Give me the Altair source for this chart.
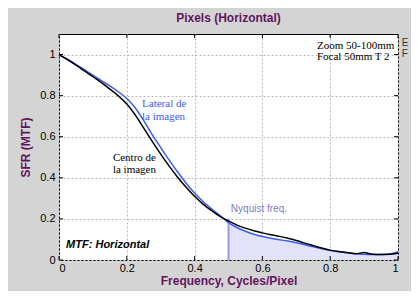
import altair as alt
import pandas as pd

# ---- data ----
freq = [0.000, 0.025, 0.050, 0.075, 0.100, 0.125, 0.150, 0.175, 0.200, 0.225,
        0.250, 0.275, 0.300, 0.325, 0.350, 0.375, 0.400, 0.425, 0.450, 0.475,
        0.500, 0.525, 0.550, 0.575, 0.600, 0.625, 0.650, 0.675, 0.700, 0.725,
        0.750, 0.775, 0.800, 0.825, 0.850, 0.875, 0.900, 0.925, 0.950, 0.975, 1.000]
lateral = [1.000, 0.977, 0.952, 0.926, 0.900, 0.873, 0.847, 0.819, 0.786, 0.740,
           0.678, 0.610, 0.547, 0.486, 0.428, 0.374, 0.326, 0.285, 0.249, 0.216,
           0.182, 0.158, 0.140, 0.125, 0.114, 0.106, 0.099, 0.092, 0.084, 0.074,
           0.064, 0.055, 0.046, 0.040, 0.035, 0.031, 0.028, 0.027, 0.027, 0.029, 0.040]
centro = [1.000, 0.975, 0.948, 0.920, 0.892, 0.863, 0.832, 0.799, 0.759, 0.706,
          0.642, 0.577, 0.515, 0.457, 0.403, 0.354, 0.310, 0.272, 0.240, 0.212,
          0.190, 0.170, 0.155, 0.142, 0.132, 0.123, 0.115, 0.106, 0.095, 0.082,
          0.070, 0.058, 0.048, 0.041, 0.036, 0.031, 0.036, 0.028, 0.027, 0.028, 0.033]

x_ticks = [0, 0.2, 0.4, 0.6, 0.8, 1]
y_ticks = [0, 0.2, 0.4, 0.6, 0.8, 1]
nyquist = 0.5

PURPLE = "#63145f"
BLUE = "#3a5cf0"

W, H = 339, 226

curves = pd.DataFrame({"freq": freq, "Lateral": lateral, "Centro": centro})
long = curves.melt("freq", var_name="serie", value_name="mtf")
area_df = curves[curves["freq"] >= nyquist][["freq", "Lateral"]].rename(columns={"Lateral": "mtf"})

xs = alt.Scale(domain=[0, 1], nice=False, zero=False)
ys = alt.Scale(domain=[0, 1.1], nice=False, zero=False)


def X(field="freq"):
    return alt.X(f"{field}:Q", scale=xs,
                 axis=alt.Axis(values=x_ticks, format="~g", title="Frequency, Cycles/Pixel",
                               labelPadding=2, titlePadding=2))


def Y(field="mtf"):
    return alt.Y(f"{field}:Q", scale=ys,
                 axis=alt.Axis(values=y_ticks, format="~g", title="SFR (MTF)",
                               labelPadding=4, titlePadding=7))


area = alt.Chart(area_df).mark_area(color="#e2e2fa", opacity=1).encode(x=X(), y=Y())

nyq = alt.Chart(pd.DataFrame({"freq": [nyquist], "mtf": [0.0], "mtf2": [0.2]})).mark_rule(
    color="#9a9aea", strokeWidth=2).encode(x=X(), y=Y(), y2="mtf2:Q")

lines = alt.Chart(long).mark_line(strokeWidth=1.5, interpolate="monotone").encode(
    x=X(), y=Y(),
    color=alt.Color("serie:N", scale=alt.Scale(domain=["Centro", "Lateral"], range=["black", BLUE]),
                    legend=None),
    order=alt.Order("serie:N", sort="descending"),
)

# inward tick marks (MATLAB style)
xt = pd.DataFrame({"freq": x_ticks})
yt = pd.DataFrame({"mtf": y_ticks})
tick_style = dict(color="black", strokeWidth=1)
xt_bot = alt.Chart(xt).mark_rule(**tick_style).encode(x=X(), y=alt.value(H), y2=alt.value(H - 4))
xt_top = alt.Chart(xt).mark_rule(**tick_style).encode(x=X(), y=alt.value(0), y2=alt.value(4))
yt_left = alt.Chart(yt).mark_rule(**tick_style).encode(y=Y(), x=alt.value(0), x2=alt.value(4))
yt_right = alt.Chart(yt).mark_rule(**tick_style).encode(y=Y(), x=alt.value(W), x2=alt.value(W - 4))

# annotations
serif_black = pd.DataFrame({"freq": [0.761, 0.761, 0.159, 0.159],
                            "mtf": [1.040, 0.988, 0.496, 0.439],
                            "label": ["Zoom 50-100mm", "Focal 50mm T 2", "Centro de", "la imagen"]})
serif_blue = pd.DataFrame({"freq": [0.245, 0.245], "mtf": [0.759, 0.697],
                           "label": ["Lateral de", "la imagen"]})
nyq_lbl = pd.DataFrame({"freq": [0.507], "mtf": [0.248], "label": ["Nyquist freq."]})
mtf_lbl = pd.DataFrame({"freq": [0.021], "mtf": [0.072], "label": ["MTF: Horizontal"]})
edge_lbl = pd.DataFrame({"freq": [1.011, 1.011], "mtf": [1.055, 1.003], "label": ["E", "F"]})

t1 = alt.Chart(serif_black).mark_text(align="left", baseline="middle", font="Liberation Serif",
                                      fontSize=11, color="black").encode(x=X(), y=Y(), text="label:N")
t2 = alt.Chart(serif_blue).mark_text(align="left", baseline="middle", font="Liberation Serif",
                                     fontSize=11, color=BLUE).encode(x=X(), y=Y(), text="label:N")
t3 = alt.Chart(nyq_lbl).mark_text(align="left", baseline="middle", font="Liberation Sans",
                                  fontSize=10, color="#7c7cc8").encode(x=X(), y=Y(), text="label:N")
t4 = alt.Chart(mtf_lbl).mark_text(align="left", baseline="middle", font="Liberation Sans",
                                  fontSize=11, fontWeight="bold", fontStyle="italic",
                                  color="black").encode(x=X(), y=Y(), text="label:N")
t5 = alt.Chart(edge_lbl).mark_text(align="left", baseline="middle", font="Liberation Sans",
                                   fontSize=10, color="#333333").encode(x=X(), y=Y(), text="label:N")

chart = alt.layer(area, nyq, lines, xt_bot, xt_top, yt_left, yt_right, t1, t2, t3, t4, t5).properties(
    width=W, height=H,
    title=alt.Title("Pixels (Horizontal)", font="Liberation Sans", fontSize=12, fontWeight="bold",
                    color=PURPLE, offset=9),
    autosize=alt.AutoSizeParams(type="none"),
    padding={"left": 51, "top": 26, "right": 13, "bottom": 31},
).configure(background="#d4d4d4").configure_view(
    stroke="black", strokeWidth=1, fill="white"
).configure_axis(
    labelFont="Liberation Sans", labelFontSize=11, labelColor="black",
    titleFont="Liberation Sans", titleFontSize=12, titleFontWeight="bold", titleColor=PURPLE,
    gridColor="#b8b8b8", gridDash=[2, 2], gridWidth=1, domain=False, ticks=False,
)

chart.save("out.html", embed_options={"renderer": "svg", "actions": False})
